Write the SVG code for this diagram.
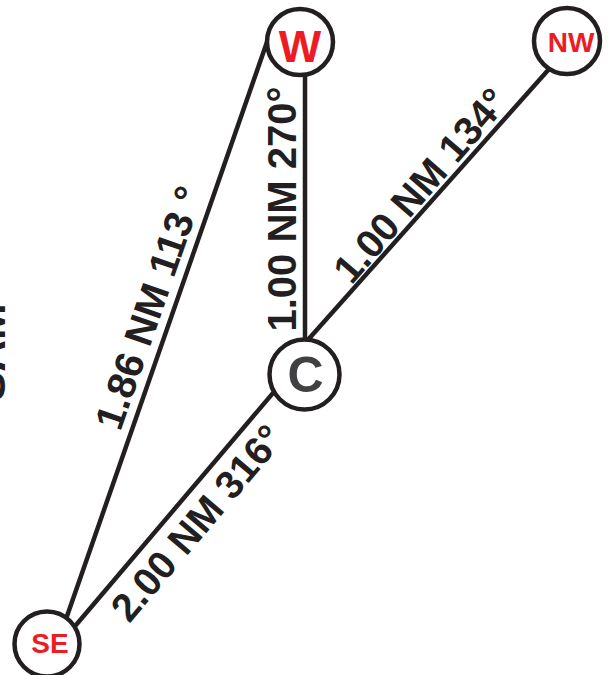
<svg xmlns="http://www.w3.org/2000/svg" width="612" height="675" viewBox="0 0 612 675">
<style>
.edge{stroke:#231f20;stroke-width:4.5;fill:none;stroke-linecap:butt}
.node{fill:#ffffff;stroke:#231f20;stroke-width:4.5}
.lbl{font-family:"Liberation Sans",Arial,sans-serif;font-weight:bold;fill:#231f20;text-anchor:middle}
.red{font-family:"Liberation Sans",Arial,sans-serif;font-weight:bold;fill:#ed1c24;text-anchor:middle}
.gray{font-family:"Liberation Sans",Arial,sans-serif;font-weight:bold;fill:#414042;text-anchor:middle}
</style>
<rect width="612" height="675" fill="#ffffff"/>
<text class="lbl" style="text-anchor:start" font-size="44" transform="translate(5,401) rotate(-90)">SAM</text>
<g id="connectors">
<line class="edge" x1="58" y1="642" x2="267" y2="42"/>
<line class="edge" x1="305" y1="50" x2="305" y2="360"/>
<line class="edge" x1="290" y1="360" x2="574" y2="41"/>
<line class="edge" x1="59" y1="645" x2="290" y2="373"/>
<text class="lbl" font-size="40" transform="translate(162,312.3) rotate(-70.8)">1.86 NM 113 °</text>
<text class="lbl" font-size="40" transform="translate(296,209) rotate(-90)">1.00 NM 270°</text>
<text class="lbl" font-size="39.5" transform="translate(430.8,194.4) rotate(-49.1)">1.00 NM 134°</text>
<text class="lbl" font-size="39.5" transform="translate(207.4,531.8) rotate(-49.7)">2.00 NM 316°</text>
</g>
<g id="node-W">
<circle class="node" cx="300" cy="42" r="33"/>
<text class="red" x="300" y="62" font-size="45">W</text>
</g>
<g id="node-NW">
<circle class="node" cx="567" cy="41" r="33"/>
<text class="red" x="571" y="52" font-size="28">NW</text>
</g>
<g id="node-C">
<circle class="node" cx="304.5" cy="374.5" r="35"/>
<text class="gray" x="305.5" y="392" font-size="50">C</text>
</g>
<g id="node-SE">
<circle class="node" cx="47" cy="644" r="32.5"/>
<text class="red" x="50" y="653" font-size="28">SE</text>
</g>
</svg>
